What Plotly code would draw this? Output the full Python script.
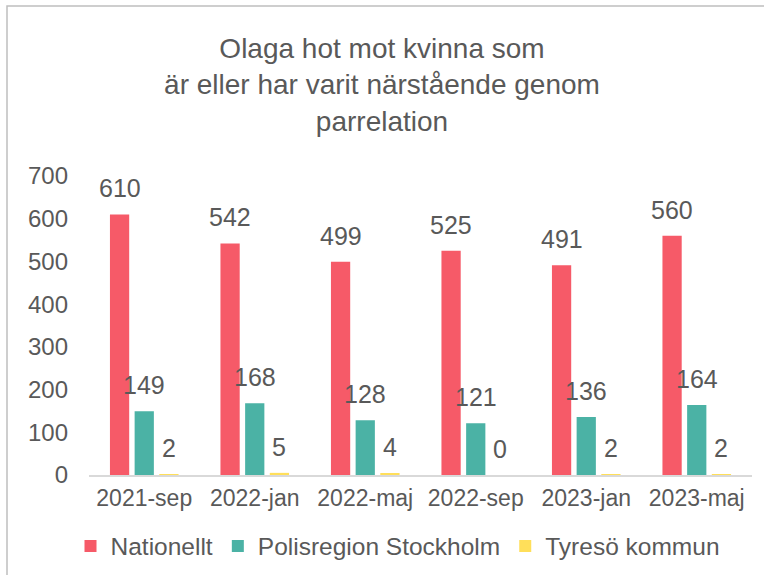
import plotly.graph_objects as go

categories = ["2021-sep", "2022-jan", "2022-maj", "2022-sep", "2023-jan", "2023-maj"]
series_names = ["Nationellt", "Polisregion Stockholm", "Tyresö kommun"]
nationellt = [610, 542, 499, 525, 491, 560]
stockholm = [149, 168, 128, 121, 136, 164]
tyreso = [2, 5, 4, 0, 2, 2]
colors = ["#F65A68", "#4BB2A5", "#FFDF5A"]
title_text = "Olaga hot mot kvinna som<br>är eller har varit närstående genom<br>parrelation"
y_ticks = [0, 100, 200, 300, 400, 500, 600, 700]

FONT = "Liberation Sans, Arial, sans-serif"
TXT = "#595959"
W, H = 764, 575
ML, MR, MT, MB = 89, 12, 176, 100
BARGAP = 0.33
BARGROUPGAP = 0.22

fig = go.Figure()
all_values = [nationellt, stockholm, tyreso]
for name, vals, col in zip(series_names, all_values, colors):
    fig.add_trace(go.Bar(name=name, x=categories, y=vals, marker_color=col,
                         marker_line_width=0))

plot_w = W - ML - MR
slot = plot_w / len(categories) * (1 - BARGAP) / len(all_values)
annotations = []
for i, vals in enumerate(all_values):
    for c, v in zip(categories, vals):
        annotations.append(dict(x=c, y=v, xref="x", yref="y", text=str(v),
                                showarrow=False, yanchor="bottom",
                                xshift=(i - 1) * slot, yshift=10,
                                font=dict(family=FONT, size=25, color=TXT)))

plot_h = H - MT - MB
fig.update_layout(
    width=W, height=H,
    margin=dict(l=ML, r=MR, t=MT, b=MB, autoexpand=False),
    paper_bgcolor="white", plot_bgcolor="white",
    barmode="group", bargap=BARGAP, bargroupgap=BARGROUPGAP,
    title=dict(text=title_text, x=0.5, xref="container", xanchor="center",
               y=1 - 58 / H, yref="container", yanchor="middle",
               font=dict(family=FONT, size=28, color=TXT)),
    font=dict(family=FONT, color=TXT),
    showlegend=True,
    legend=dict(orientation="h", x=398 / W, xref="container", xanchor="center",
                y=1 - 546 / H, yref="container", yanchor="middle",
                font=dict(family=FONT, size=24.5, color=TXT),
                bgcolor="rgba(0,0,0,0)"),
    xaxis=dict(showgrid=False, showline=True, linecolor="#D9D9D9", linewidth=2,
               ticks="", ticklabelstandoff=1, automargin=False,
               tickfont=dict(family=FONT, size=23, color=TXT)),
    yaxis=dict(range=[0, 700], tickvals=y_ticks, showgrid=False, zeroline=False,
               showline=False, ticks="", ticklen=0, ticklabelstandoff=20,
               automargin=False,
               tickfont=dict(family=FONT, size=24, color=TXT)),
    annotations=annotations,
    shapes=[dict(type="rect", xref="paper", yref="paper",
                 x0=(7 - ML) / plot_w, x1=(W + 10 - ML) / plot_w,
                 y0=-(H + 10 - MT - plot_h) / plot_h, y1=(MT + plot_h - 6) / plot_h,
                 line=dict(color="#BFBFBF", width=1.5), fillcolor="rgba(0,0,0,0)",
                 layer="below")],
)

fig.write_html("out.html", config={"displayModeBar": False},
               post_script="document.body.style.margin='0';document.body.style.overflow='hidden';")
